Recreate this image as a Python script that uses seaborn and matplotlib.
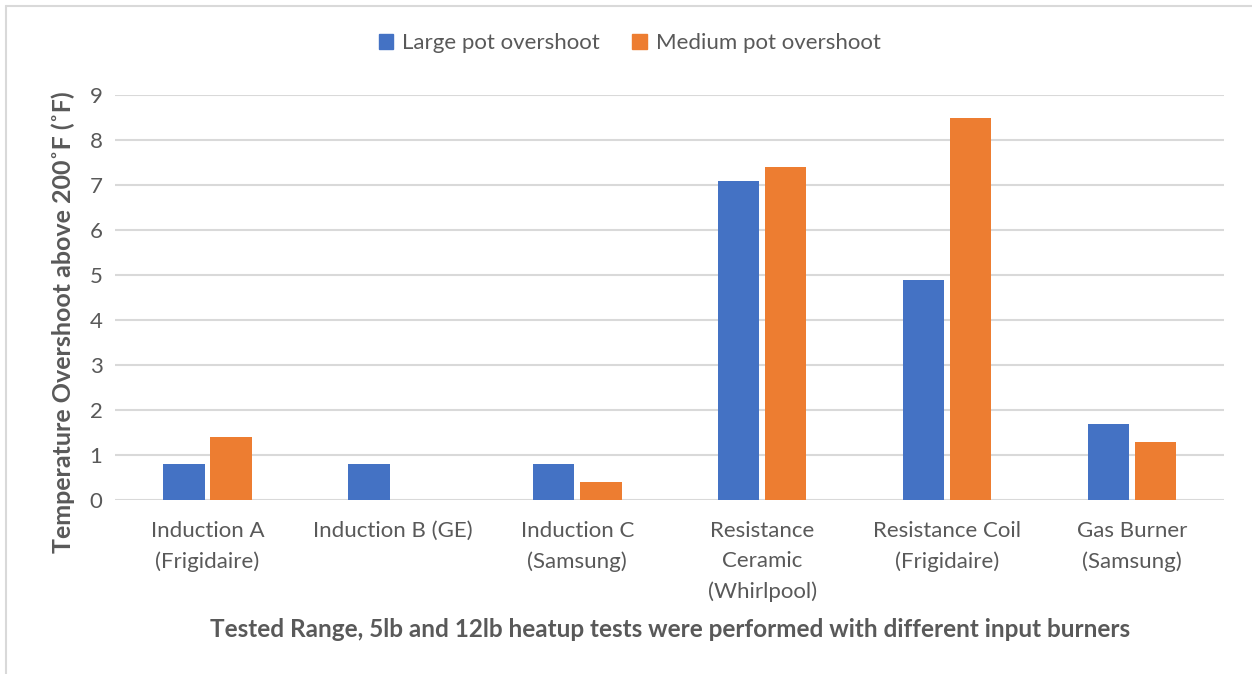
import pandas as pd
import seaborn as sns
import matplotlib.pyplot as plt
from matplotlib.lines import Line2D
from matplotlib.patches import Patch

# data
categories = ["Induction A\n(Frigidaire)", "Induction B (GE)", "Induction C\n(Samsung)",
              "Resistance\nCeramic\n(Whirlpool)", "Resistance Coil\n(Frigidaire)", "Gas Burner\n(Samsung)"]
large_pot = [0.8, 0.8, 0.8, 7.1, 4.9, 1.7]
medium_pot = [1.4, 0.0, 0.4, 7.4, 8.5, 1.3]
series = ["Large pot overshoot", "Medium pot overshoot"]
y_ticks = list(range(0, 10))

df = pd.DataFrame({"Range": categories * 2,
                   "Overshoot": large_pot + medium_pot,
                   "Series": [series[0]] * 6 + [series[1]] * 6})

sns.set_style("white")
plt.rcParams['font.family'] = ['Lato', 'DejaVu Sans']
gray = "#595959"
colors = ["#4472C4", "#ED7D31"]

fig = plt.figure(figsize=(12.52, 6.74), dpi=100)
ax = fig.add_axes([0.0919, 0.258, 0.886, 0.601])

sns.barplot(data=df, x="Range", y="Overshoot", hue="Series", palette=colors,
            width=0.51, gap=0.12, linewidth=0, saturation=1, ax=ax, legend=False)

ax.set_ylim(0, 9)
ax.set_yticks(y_ticks)
ax.set_xlim(-0.5, 5.5)
ax.grid(axis='y', color="#D9D9D9", linewidth=1.5)
ax.set_axisbelow(True)
for s in ax.spines.values():
    s.set_visible(False)
ax.tick_params(axis='both', length=0, labelsize=16, colors=gray)
ax.tick_params(axis='x', pad=15)
ax.tick_params(axis='y', pad=9)
for t in ax.get_xticklabels():
    t.set_linespacing(1.62)

ax.set_ylabel("Temperature Overshoot above 200˚F (˚F)", fontsize=18,
              fontweight='bold', color=gray)
ax.yaxis.set_label_coords(-0.036, 0.44)
ax.set_xlabel("Tested Range, 5lb and 12lb heatup tests were performed with different input burners",
              fontsize=17.5, fontweight='bold', color=gray, labelpad=12)

handles = [Patch(color=c, label=l) for c, l in zip(colors, series)]
fig.legend(handles=handles, loc='center', bbox_to_anchor=(0.503, 0.936), ncol=2,
           frameon=False, fontsize=16, labelcolor=gray, handlelength=0.65,
           handleheight=0.65, handletextpad=0.4, columnspacing=1.45)

# outer chart border (top and left visible)
fig.add_artist(Line2D([6 / 1252, 1], [1 - 6 / 674, 1 - 6 / 674], color="#D9D9D9", linewidth=1.5))
fig.add_artist(Line2D([6 / 1252, 6 / 1252], [0, 1 - 6 / 674], color="#D9D9D9", linewidth=1.5))

plt.savefig("out.png", dpi=100)
